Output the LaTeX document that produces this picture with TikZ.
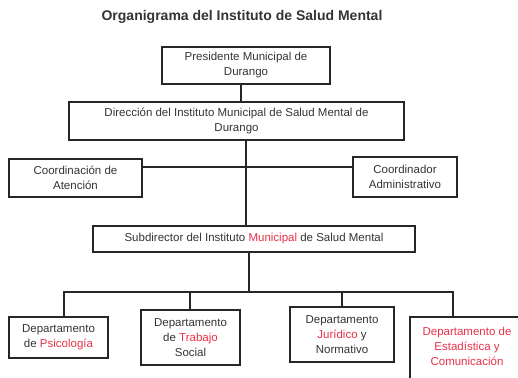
\documentclass[tikz,border=0pt]{standalone}
\usepackage{fontspec}
\setmainfont{Liberation Sans}
\definecolor{rojo}{RGB}{232,48,72}
\definecolor{gris}{RGB}{51,51,51}
\newcommand{\rojo}[1]{\textcolor{rojo}{#1}}

\begin{document}
\begin{tikzpicture}[x=1pt,y=-1pt,
    box/.style={draw=black!85,line width=1.6pt,align=center,text=gris,
      font=\fontsize{11.5}{15}\selectfont,inner sep=0pt},
    conn/.style={draw=black!85,line width=1.2pt}]
  \useasboundingbox (0,0) rectangle (518,377);
  \node[font=\bfseries\fontsize{14}{16}\selectfont,text=gris] (title) at (242,17)
    {Organigrama del Instituto de Salud Mental};
  \node[box,minimum width=168pt,minimum height=37pt] (pres) at (246,65.5)
    {Presidente Municipal de\\Durango};
  \node[box,minimum width=335pt,minimum height=38pt] (dir) at (236.5,121)
    {Dirección del Instituto Municipal de Salud Mental de\\Durango};
  \node[box,minimum width=133pt,minimum height=38pt] (coorat) at (75.5,178)
    {Coordinación de\\Atención};
  \node[box,minimum width=104pt,minimum height=40pt] (coorad) at (405,177)
    {Coordinador\\Administrativo};
  \node[box,minimum width=322pt,minimum height=26pt] (sub) at (254,239)
    {Subdirector del Instituto \rojo{Municipal} de Salud Mental};
  \node[box,minimum width=99pt,minimum height=41pt] (psico) at (58.5,337.5)
    {Departamento\\de \rojo{Psicología}};
  \node[box,minimum width=99pt,minimum height=55pt] (trab) at (190.5,337.5)
    {Departamento\\de \rojo{Trabajo}\\Social};
  \node[box,minimum width=104pt,minimum height=55pt] (jur) at (342,334.5)
    {Departamento\\\rojo{Jurídico} y\\Normativo};
  \node[box,minimum width=120pt,minimum height=70pt] (est) at (470,352) {};
  \node[box,draw=none,text=rojo] (esttext) at (467,346)
    {Departamento de\\Estadística y\\Comunicación};

  % upper part
  \coordinate (top) at (241,0);
  \coordinate (spine) at (246,167);
  \draw[conn] (pres.south -| top) -- (dir.north -| top);
  \draw[conn] (dir.south -| spine) -- (sub.north -| spine);
  \draw[conn] (coorat.east |- spine) -- (spine);
  \draw[conn] (spine) -- (coorad.west |- spine);

  % departments
  \coordinate (bus) at (249,292);
  \draw[conn] (sub.south -| bus) -- (bus);
  \draw[conn] (bus) -| ([xshift=5.5pt]psico.north);
  \draw[conn] (bus) -| ([xshift=-0.5pt]trab.north);
  \draw[conn] (bus) -| (jur.north);
  \draw[conn] (bus) -| ([xshift=-17pt]est.north);
\end{tikzpicture}
\end{document}
